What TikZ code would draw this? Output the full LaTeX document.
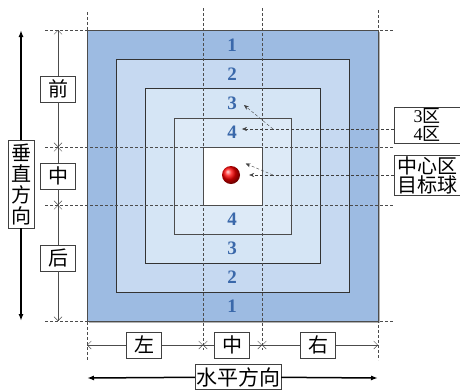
\documentclass[tikz,border=0pt]{standalone}
\usepackage{fontspec}
\setmainfont{Liberation Serif}
\newfontfamily\cjk{Noto Sans CJK SC}
\usepackage{tikz}
\usetikzlibrary{arrows.meta,positioning,shadings}
\usepackage{xcolor}
\definecolor{zoneA}{RGB}{157,187,226}
\definecolor{zoneB}{RGB}{198,217,241}
\definecolor{zoneC}{RGB}{213,229,245}
\definecolor{zoneD}{RGB}{221,234,247}
\definecolor{numblue}{RGB}{58,104,170}
\newcommand{\cjkfs}[1]{\cjk\fontsize{#1}{#1}\selectfont}

\begin{document}
\begin{tikzpicture}[x=1pt, y=-1pt,
  lbl/.style={draw=black!75, fill=white, inner sep=1pt, minimum width=35pt, minimum height=26pt, font=\cjkfs{20}},
  num/.style={text=numblue, font=\bfseries\fontsize{19}{19}\selectfont, inner sep=1pt},
  guide/.style={black!70, dash pattern=on 3pt off 2pt},
  dim/.style={black!70, -{Straight Barb[length=4pt,width=8pt]}},
  big/.style={line width=1.5pt, -{Latex[length=7pt,width=5pt]}},
  pointer/.style={black!75, dash pattern=on 3pt off 2pt}]
\useasboundingbox (0,0) rectangle (460,389);
% nested zones
\fill[black!30] (89,32) rectangle (380,323);
\filldraw[fill=zoneA, draw=black!70] (87,30) rectangle (378,321);
\filldraw[fill=zoneB, draw=black!80] (116,59) rectangle (349,292);
\filldraw[fill=zoneC, draw=black!80] (145,88) rectangle (320,263);
\filldraw[fill=zoneD, draw=black!70] (174,118) rectangle (291,234);
\filldraw[fill=white, draw=black!70] (203,147) rectangle (262,205);
% zone numbers
\foreach \n/\y in {1/45, 2/74, 3/103, 4/132}
  \node[num] (nt\n) at (232,\y) {\n};
\foreach \n/\y in {4/219, 3/248, 2/277, 1/306}
  \node[num] (nb\n) at (232,\y) {\n};
% target ball
\node[circle, shading=ball, ball color=red, minimum size=18pt, inner sep=0pt] (ball) at (231,175) {};
% guide lines
\foreach \y in {30, 147, 205, 321}
  \draw[guide] (45,\y) -- (394,\y);
\foreach \x/\a/\b in {87/12/360, 203/8/350, 262/8/350, 378/10/360}
  \draw[guide] (\x,\a) -- (\x,\b);
% vertical dimensions
\coordinate (v0) at (58,30);
\coordinate (v1) at (58,147);
\coordinate (v2) at (58,205);
\coordinate (v3) at (58,321);
\node[lbl] (front) at (58,89) {前};
\node[lbl] (midv) at (58,176) {中};
\node[lbl] (back) at (58,258) {后};
\draw[dim] (front) -- (v0);
\draw[dim] (front) -- (v1);
\draw[dim] (midv) -- (v1);
\draw[dim] (midv) -- (v2);
\draw[dim] (back) -- (v2);
\draw[dim] (back) -- (v3);
% horizontal dimensions
\coordinate (h0) at (87,345);
\coordinate (h1) at (203,345);
\coordinate (h2) at (262,345);
\coordinate (h3) at (378,345);
\node[lbl] (left) at (144,345) {左};
\node[lbl] (midh) at (232,345) {中};
\node[lbl] (right) at (318,345) {右};
\draw[dim] (left) -- (h0);
\draw[dim] (left) -- (h1);
\draw[dim] (midh) -- (h1);
\draw[dim] (midh) -- (h2);
\draw[dim] (right) -- (h2);
\draw[dim] (right) -- (h3);
% main directions
\node[draw=black!75, fill=white, align=center, inner sep=2pt, minimum width=26pt, minimum height=88pt,
  font=\cjk\fontsize{20}{21}\selectfont] (vdir) at (21,184) {垂\\直\\方\\向};
\coordinate (vtop) at (21,30);
\coordinate (vbot) at (21,321);
\draw[big] (vdir) -- (vtop);
\draw[big] (vdir) -- (vbot);
\node[draw=black!75, fill=white, inner sep=1pt, minimum height=25pt, font=\cjkfs{21}] (hdir) at (238,377) {水平方向};
\coordinate (hleft) at (87,378);
\coordinate (hright) at (378,378);
\draw[big] (hdir) -- (hleft);
\draw[big] (hdir) -- (hright);
% zone labels on the right
\node[draw=black!75, fill=white, align=center, minimum width=66pt, minimum height=36pt, inner sep=1pt,
  font=\fontsize{18}{18}\selectfont] (zones) at (427,125) {3{\cjk 区}\\4{\cjk 区}};
\node[draw=black!75, fill=white, align=center, minimum width=66pt, minimum height=38pt, inner sep=1pt,
  font=\cjk\fontsize{20}{19}\selectfont] (target) at (427,175) {中心区\\目标球};
\coordinate (j1) at (273,129);
\coordinate (j2) at (273,175);
\draw[pointer] (zones.west |- j1) -- (j1);
\draw[pointer, -{Stealth[length=5pt,width=4pt]}] (j1) -- ([shift={(6pt,-2pt)}]nt3.east);
\draw[pointer, -{Stealth[length=5pt,width=4pt]}] (j1) -- ([xshift=4pt]nt4.east |- j1);
\draw[pointer] (target.west |- j2) -- (j2);
\draw[pointer, -{Stealth[length=5pt,width=4pt]}] (j2) -- ([shift={(8pt,5pt)}]ball.north east);
\draw[pointer, -{Stealth[length=5pt,width=4pt]}] (j2) -- ([xshift=9pt]ball.east);
\end{tikzpicture}
\end{document}
